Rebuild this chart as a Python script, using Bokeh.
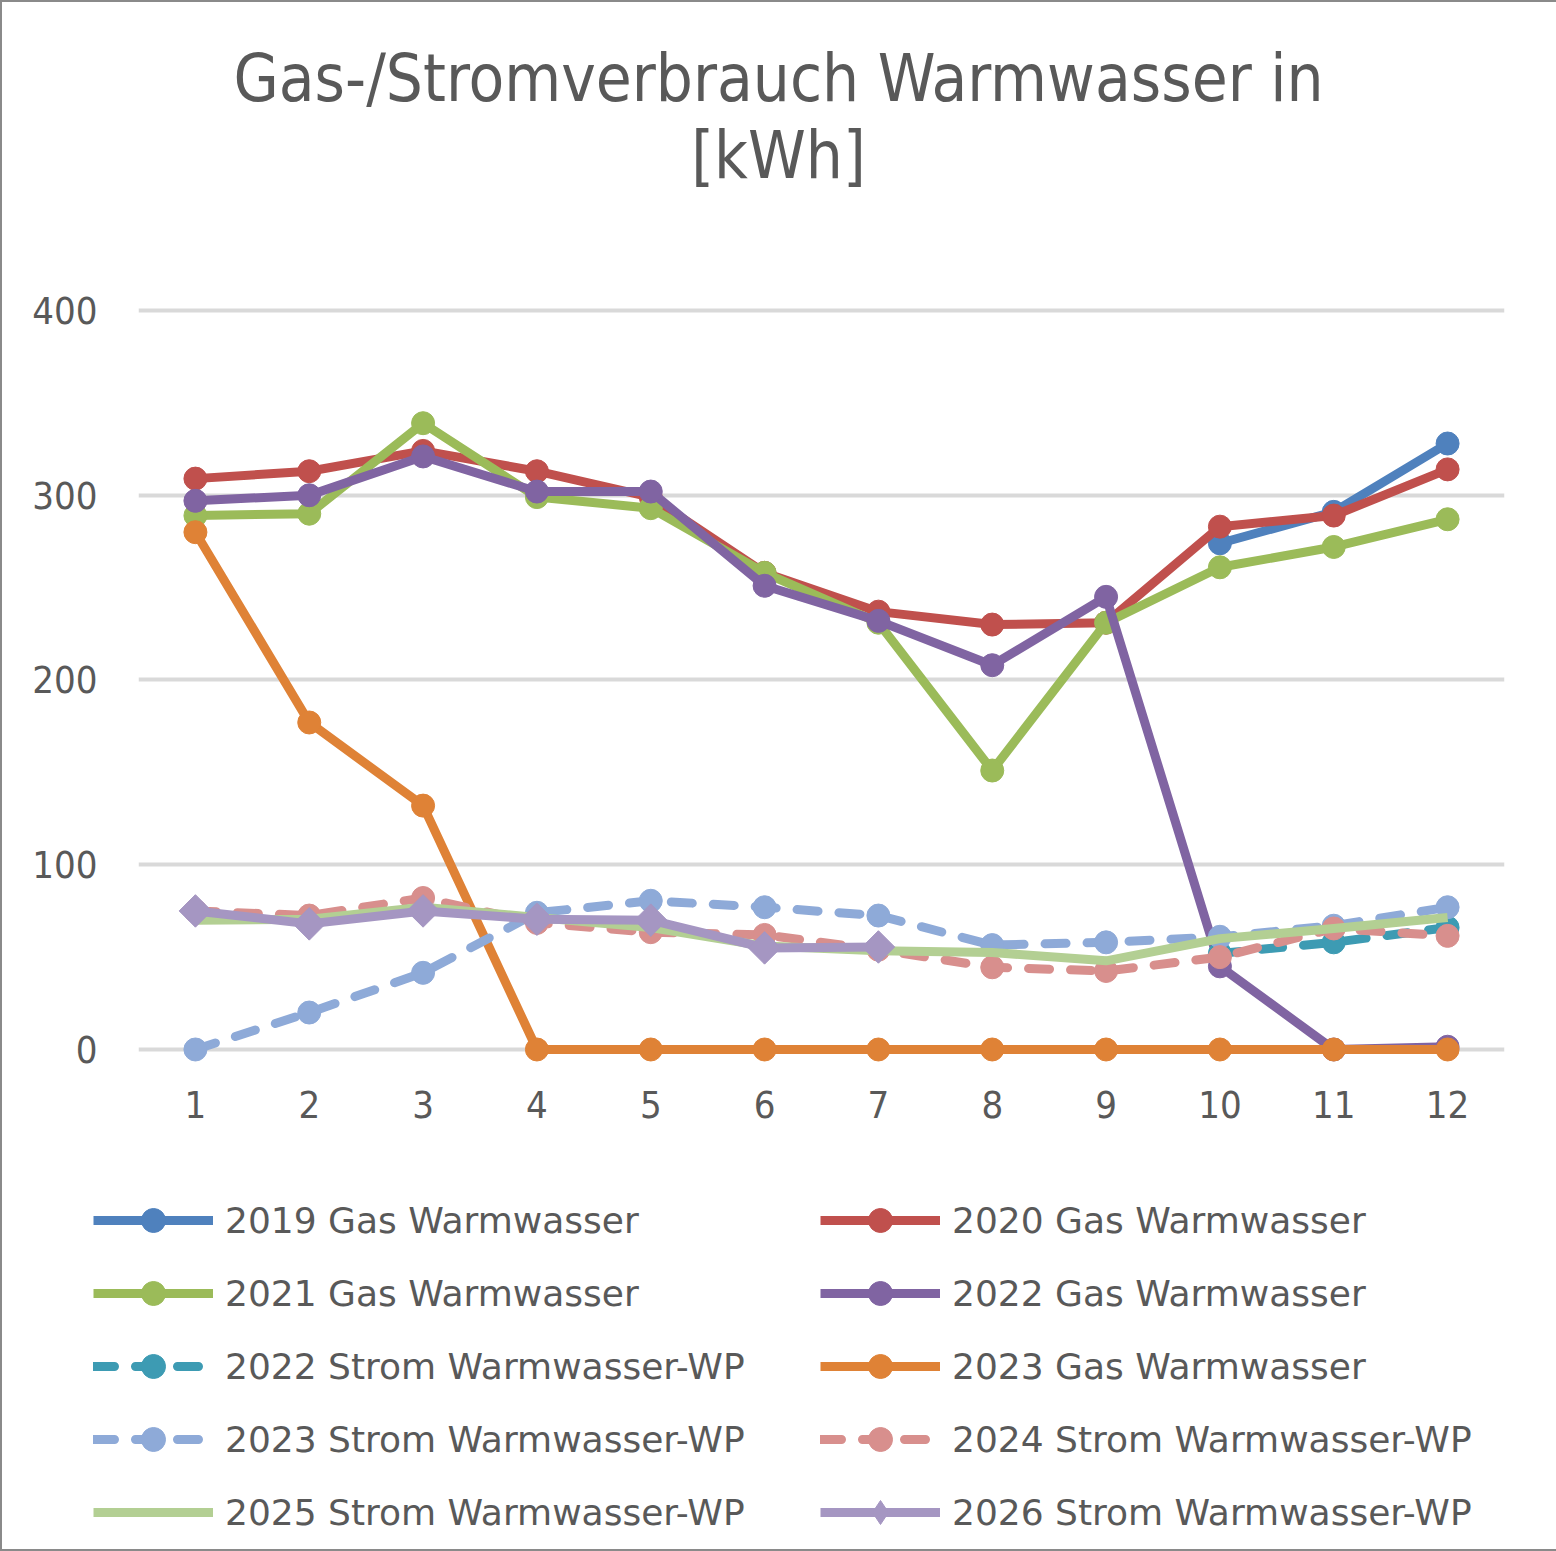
import math
from bokeh.plotting import figure
from bokeh.layouts import column
from bokeh.models import Legend, LegendItem, FixedTicker, Range1d, ColumnDataSource, Label
from bokeh.embed import file_html
from bokeh.resources import INLINE

NaN = float("nan")

months = list(range(1, 13))
tick_labels = {m: str(m) for m in months}
y_ticks = [0, 100, 200, 300, 400]

gas_2019 = [NaN, NaN, NaN, NaN, NaN, NaN, NaN, NaN, NaN, 274, 291, 328]
gas_2020 = [309, 313, 324, 313, 299, 258, 237, 230, 231, 283, 289, 314]
gas_2021 = [289, 290, 339, 299, 293, 258, 231, 151, 231, 261, 272, 287]
gas_2022 = [297, 300, 321, 302, 302, 251, 232, 208, 245, 45, 0, 1.5]
strom_2022 = [NaN, NaN, NaN, NaN, NaN, NaN, NaN, NaN, NaN, 52, 58, 66]
gas_2023 = [280, 177, 132, 0, 0, 0, 0, 0, 0, 0, 0, 0]
strom_2023 = [0, 20, 41.5, 74, 80.5, 77, 72.5, 56.5, 58, 61, 67, 77]
strom_2024 = [75, 72.5, 82, 68.5, 63.5, 62, 54, 44.5, 42.5, 50, 65.5, 61.5]
strom_2025 = [70, 70.5, 77, 71.5, 66, 56, 53.5, 52.5, 48, 60, 65.5, 71.5]
strom_2026 = [75, 68, 75, 70.5, 70, 55, 55.5, NaN, NaN, NaN, NaN, NaN]

series = [
    ("2019 Gas Warmwasser", gas_2019, "#4f81bd", "solid", "circle"),
    ("2020 Gas Warmwasser", gas_2020, "#c0504d", "solid", "circle"),
    ("2021 Gas Warmwasser", gas_2021, "#9bbb59", "solid", "circle"),
    ("2022 Gas Warmwasser", gas_2022, "#8064a2", "solid", "circle"),
    ("2022 Strom Warmwasser-WP", strom_2022, "#3d9bb3", "21 21", "circle"),
    ("2023 Gas Warmwasser", gas_2023, "#df8236", "solid", "circle"),
    ("2023 Strom Warmwasser-WP", strom_2023, "#8eaad8", "21 21", "circle"),
    ("2024 Strom Warmwasser-WP", strom_2024, "#d88f8d", "21 21", "circle"),
    ("2025 Strom Warmwasser-WP", strom_2025, "#b3cf93", "solid", None),
    ("2026 Strom Warmwasser-WP", strom_2026, "#a596c2", "solid", "diamond"),
]
left_names = ["2019 Gas Warmwasser", "2021 Gas Warmwasser", "2022 Strom Warmwasser-WP",
              "2023 Strom Warmwasser-WP", "2025 Strom Warmwasser-WP"]
right_names = ["2020 Gas Warmwasser", "2022 Gas Warmwasser", "2023 Gas Warmwasser",
               "2024 Strom Warmwasser-WP", "2026 Strom Warmwasser-WP"]
title_lines = ["Gas-/Stromverbrauch Warmwasser in", "[kWh]"]

TEXT = "#595959"
FONT = "DejaVu Sans Condensed"
W = 1556
H_TITLE, H_CHART, H_LEGEND = 230, 928, 389


def bare(height, xr, yr):
    f = figure(width=W, height=height, x_range=xr, y_range=yr,
               x_axis_type=None, y_axis_type=None, title=None,
               output_backend="svg", toolbar_location=None, min_border=0,
               frame_align=False)
    f.grid.visible = False
    f.outline_line_color = None
    f.background_fill_color = "white"
    f.border_fill_color = "white"
    return f


def draw_series(fig, name, vals, color, dash, marker, legend=False):
    src = ColumnDataSource(dict(x=months, y=vals))
    rs = [fig.line("x", "y", source=src, line_color=color, line_width=9,
                   line_dash=dash, line_cap="round" if dash != "solid" else "butt",
                   line_join="round")]
    if marker == "circle":
        rs.append(fig.scatter("x", "y", source=src, marker="circle", size=23,
                              fill_color=color, line_color=color))
    elif marker == "diamond":
        if legend:
            rs.append(fig.scatter("x", "y", source=src, marker="diamond", size=34,
                                  fill_color=color, line_color=color))
        else:
            rs.append(fig.scatter("x", "y", source=src, marker="square", size=23,
                                  angle=math.pi / 4, fill_color=color, line_color=color))
    return rs


# ---- title ----
pt = bare(H_TITLE, Range1d(0, 1), Range1d(0, 1))
for line, ty in zip(title_lines, (154, 77)):
    pt.add_layout(Label(x=776, y=ty, x_units="screen", y_units="screen", text=line,
                        text_align="center", text_baseline="middle", text_font=FONT,
                        text_font_size="65px", text_color=TEXT))

# ---- chart ----
p = figure(
    width=W, height=H_CHART, title=None,
    x_range=Range1d(0.5, 12.5), y_range=Range1d(-15.16, 409.74),
    output_backend="svg", toolbar_location=None, frame_align=False,
    min_border_left=136, min_border_right=54,
    min_border_top=60, min_border_bottom=83,
)
p.outline_line_color = None
p.background_fill_color = "white"
p.border_fill_color = "white"
p.xgrid.grid_line_color = None
p.ygrid.ticker = FixedTicker(ticks=y_ticks)
p.ygrid.grid_line_color = "#d9d9d9"
p.ygrid.grid_line_width = 4
p.xaxis.ticker = FixedTicker(ticks=months)
p.xaxis.major_label_overrides = tick_labels
p.yaxis.ticker = FixedTicker(ticks=y_ticks)
for ax in (p.xaxis, p.yaxis):
    ax.axis_line_color = None
    ax.major_tick_line_color = None
    ax.minor_tick_line_color = None
    ax.major_tick_out = 0
    ax.major_tick_in = 0
    ax.minor_tick_out = 0
    ax.major_label_text_font = FONT
    ax.major_label_text_font_size = "38px"
    ax.major_label_text_color = TEXT
p.yaxis.major_label_standoff = 41
p.xaxis.major_label_standoff = 13

for s in series:
    draw_series(p, *s)

# ---- legend (proxies drawn outside the visible ranges) ----
pl = bare(H_LEGEND, Range1d(100, 101), Range1d(1000, 1001))
items = {}
for s in series:
    items[s[0]] = LegendItem(label=s[0], renderers=draw_series(pl, *s, legend=True))

for names, vx in ((left_names, 91), (right_names, 818)):
    lg = Legend(items=[items[n] for n in names], location=(vx, 7), orientation="vertical")
    lg.padding = 0
    lg.margin = 0
    lg.spacing = 13
    lg.glyph_width = 120
    lg.glyph_height = 60
    lg.label_height = 60
    lg.label_standoff = 12
    lg.label_text_font = "DejaVu Sans"
    lg.label_text_font_size = "36px"
    lg.label_text_color = TEXT
    lg.border_line_color = None
    lg.background_fill_alpha = 0
    pl.add_layout(lg, "center")

layout = column(pt, p, pl, spacing=0)
layout.styles = {"border": "2px solid #8a8a8a"}

open("out.html", "w").write(file_html(layout, INLINE))
